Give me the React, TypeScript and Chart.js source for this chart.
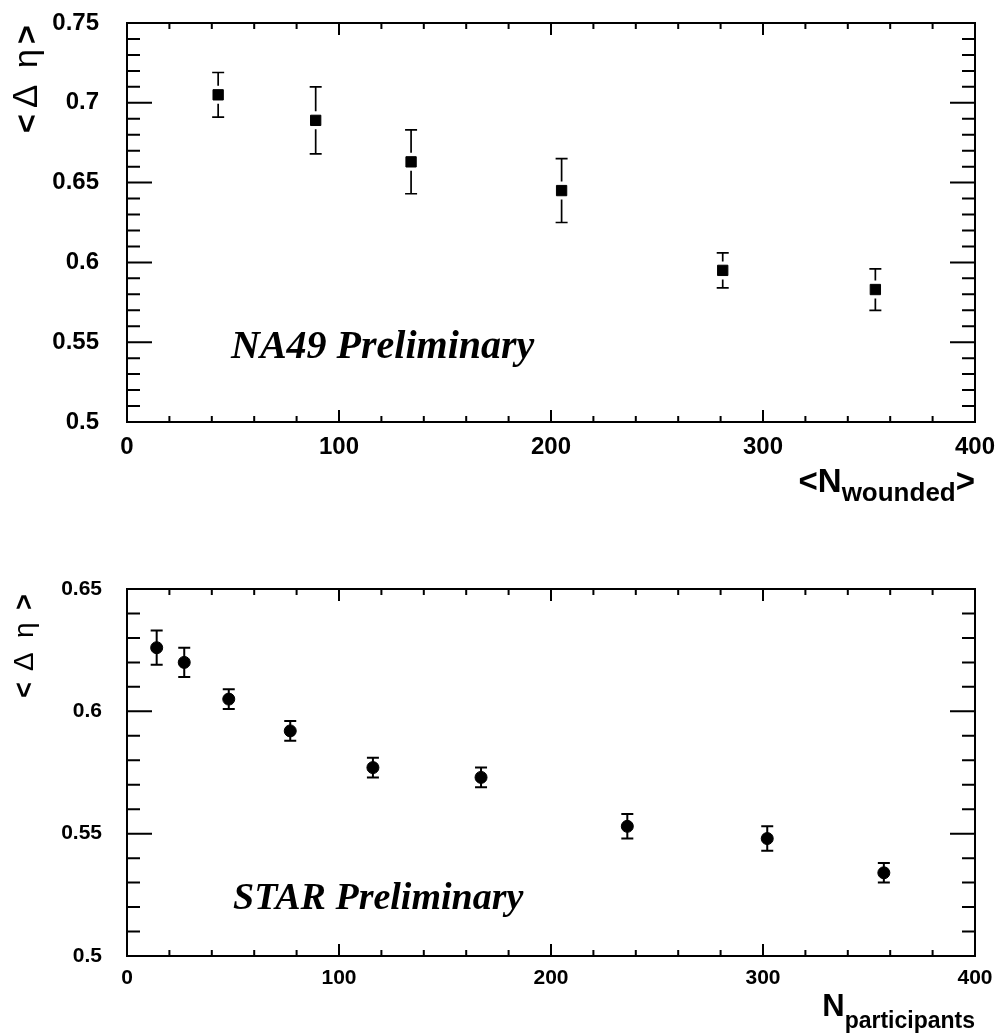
import React, { useEffect, useRef } from "react";
import { Chart, registerables } from "chart.js";
Chart.register(...registerables);

// ---------------- data ----------------
// NA49 (top panel)
const na49X = [43, 89, 134, 205, 281, 353];
const na49Y = [0.705, 0.689, 0.663, 0.645, 0.595, 0.583];
const na49Hi = [0.719, 0.71, 0.683, 0.665, 0.606, 0.596];
const na49Lo = [0.691, 0.668, 0.643, 0.625, 0.584, 0.57];

// STAR (bottom panel)
const starX = [14, 27, 48, 77, 116, 167, 236, 302, 357];
const starY = [0.626, 0.620, 0.605, 0.592, 0.577, 0.573, 0.553, 0.548, 0.534];
const starHi = [0.633, 0.626, 0.609, 0.596, 0.581, 0.577, 0.558, 0.553, 0.538];
const starLo = [0.619, 0.614, 0.601, 0.588, 0.573, 0.569, 0.548, 0.543, 0.53];

// tick labels
const xTickLabels = ["0", "100", "200", "300", "400"];
const na49YTickLabels = ["0.5", "0.55", "0.6", "0.65", "0.7", "0.75"];
const starYTickLabels = ["0.5", "0.55", "0.6", "0.65"];

const SANS = '"Liberation Sans", Arial, sans-serif';
const SERIF = '"Liberation Serif", "Times New Roman", serif';

function labelFor(labels: string[]) {
  return (value: number) => {
    for (const l of labels) {
      if (Math.abs(parseFloat(l) - value) < 1e-6) return l;
    }
    return "";
  };
}

type PanelCfg = {
  id: string;
  top: number;
  height: number;
  padTop: number;
  xAxisHeight: number;
  yMin: number;
  yMax: number;
  xs: number[];
  ys: number[];
  his: number[];
  los: number[];
  yLabels: string[];
  tickFontSize: number;
  xTickPad: number;
  yTickPad: number;
  pointStyle: string;
  pointRadius: number;
  errGap: number;
  errWidth: number;
  yTitle: { x: number; y: number; pieces: { t: string; font: string; off: number }[] };
  xTitle: { pieces: { t: string; font: string; dy: number }[] };
  note: { text: string; x: number; y: number; font: string };
};

function makePlugin(cfg: PanelCfg) {
  return {
    id: "deco" + cfg.id,
    beforeDatasetsDraw(chart: any) {
      const ctx = chart.ctx;
      const xs = chart.scales.x;
      const ys = chart.scales.y;
      ctx.save();
      ctx.strokeStyle = "#000";
      ctx.lineWidth = cfg.errWidth;
      for (let i = 0; i < cfg.xs.length; i++) {
        const px = xs.getPixelForValue(cfg.xs[i]);
        const pc = ys.getPixelForValue(cfg.ys[i]);
        const ph = ys.getPixelForValue(cfg.his[i]);
        const pl = ys.getPixelForValue(cfg.los[i]);
        ctx.beginPath();
        if (pc - cfg.errGap > ph) {
          ctx.moveTo(px, ph);
          ctx.lineTo(px, pc - cfg.errGap);
        }
        if (pc + cfg.errGap < pl) {
          ctx.moveTo(px, pc + cfg.errGap);
          ctx.lineTo(px, pl);
        }
        ctx.moveTo(px - 6, ph);
        ctx.lineTo(px + 6, ph);
        ctx.moveTo(px - 6, pl);
        ctx.lineTo(px + 6, pl);
        ctx.stroke();
      }
      ctx.restore();
    },
    afterDraw(chart: any) {
      const ctx = chart.ctx;
      const a = chart.chartArea;
      const xs = chart.scales.x;
      const ys = chart.scales.y;
      ctx.save();
      ctx.strokeStyle = "#000";
      ctx.lineWidth = 2;
      ctx.strokeRect(a.left, a.top, a.right - a.left, a.bottom - a.top);
      ctx.beginPath();
      const xl = labelFor(xTickLabels);
      for (const t of xs.ticks) {
        const px = xs.getPixelForValue(t.value);
        const len = xl(t.value) ? 12 : 6;
        ctx.moveTo(px, a.bottom);
        ctx.lineTo(px, a.bottom - len);
        ctx.moveTo(px, a.top);
        ctx.lineTo(px, a.top + len);
      }
      const yl = labelFor(cfg.yLabels);
      for (const t of ys.ticks) {
        const py = ys.getPixelForValue(t.value);
        const len = yl(t.value) ? 25 : 13;
        ctx.moveTo(a.left, py);
        ctx.lineTo(a.left + len, py);
        ctx.moveTo(a.right, py);
        ctx.lineTo(a.right - len, py);
      }
      ctx.stroke();

      ctx.fillStyle = "#000";
      ctx.textBaseline = "alphabetic";
      ctx.textAlign = "left";
      // y title (rotated)
      ctx.save();
      ctx.translate(cfg.yTitle.x, cfg.yTitle.y);
      ctx.rotate(-Math.PI / 2);
      for (const p of cfg.yTitle.pieces) {
        ctx.font = p.font;
        ctx.fillText(p.t, p.off, 0);
      }
      ctx.restore();

      // x title (right-anchored)
      let total = 0;
      for (const p of cfg.xTitle.pieces) {
        ctx.font = p.font;
        total += ctx.measureText(p.t).width;
      }
      let cx = a.right - total;
      for (const p of cfg.xTitle.pieces) {
        ctx.font = p.font;
        ctx.fillText(p.t, cx, a.bottom + p.dy);
        cx += ctx.measureText(p.t).width;
      }

      // annotation
      ctx.font = cfg.note.font;
      ctx.fillText(cfg.note.text, cfg.note.x, cfg.note.y);
      ctx.restore();
    },
  };
}

function Panel({ cfg }: { cfg: PanelCfg }) {
  const ref = useRef<HTMLCanvasElement>(null);
  useEffect(() => {
    if (!ref.current) return;
    const tickFont = { family: SANS, size: cfg.tickFontSize, weight: "bold" as const };
    const chart = new Chart(ref.current, {
      type: "scatter",
      data: {
        datasets: [
          {
            data: cfg.xs.map((x, i) => ({ x, y: cfg.ys[i] })),
            pointStyle: cfg.pointStyle as any,
            pointRadius: cfg.pointRadius,
            pointHoverRadius: cfg.pointRadius,
            backgroundColor: "#000",
            borderColor: "#000",
            borderWidth: 1,
            showLine: false,
          },
        ],
      },
      options: {
        responsive: false,
        animation: false,
        devicePixelRatio: 1,
        events: [],
        layout: { padding: { top: cfg.padTop, right: 22, left: 0, bottom: 0 } },
        plugins: { legend: { display: false }, tooltip: { enabled: false } },
        scales: {
          x: {
            type: "linear",
            position: "bottom",
            min: 0,
            max: 400,
            afterFit: (s: any) => {
              s.height = cfg.xAxisHeight;
              s.paddingLeft = 0;
              s.paddingRight = 0;
            },
            grid: { display: false, drawTicks: false, tickLength: 0 },
            border: { display: false },
            ticks: {
              stepSize: 20,
              autoSkip: false,
              maxTicksLimit: 1000,
              maxRotation: 0,
              minRotation: 0,
              padding: cfg.xTickPad,
              color: "#000",
              font: tickFont,
              callback: (v: any) => labelFor(xTickLabels)(Number(v)),
            },
          },
          y: {
            type: "linear",
            min: cfg.yMin,
            max: cfg.yMax,
            afterFit: (s: any) => {
              s.width = 127;
              s.paddingTop = 0;
              s.paddingBottom = 0;
            },
            grid: { display: false, drawTicks: false, tickLength: 0 },
            border: { display: false },
            ticks: {
              stepSize: 0.01,
              autoSkip: false,
              maxTicksLimit: 1000,
              padding: cfg.yTickPad,
              color: "#000",
              font: tickFont,
              callback: (v: any) => labelFor(cfg.yLabels)(Number(v)),
            },
          },
        },
      },
      plugins: [makePlugin(cfg)],
    });
    return () => chart.destroy();
  }, [cfg]);
  return (
    <canvas
      ref={ref}
      width={997}
      height={cfg.height}
      style={{ position: "absolute", left: 0, top: cfg.top, width: 997, height: cfg.height, display: "block" }}
    />
  );
}

const topCfg: PanelCfg = {
  id: "na49",
  top: 0,
  height: 560,
  padTop: 23,
  xAxisHeight: 560 - 422,
  yMin: 0.5,
  yMax: 0.75,
  xs: na49X,
  ys: na49Y,
  his: na49Hi,
  los: na49Lo,
  yLabels: na49YTickLabels,
  tickFontSize: 24,
  xTickPad: 11,
  yTickPad: 28,
  pointStyle: "rect",
  pointRadius: 7.3,
  errGap: 9,
  errWidth: 1.7,
  yTitle: {
    x: 37,
    y: 133,
    pieces: [
      { t: "<", font: `bold 32px ${SANS}`, off: 0 },
      { t: "Δ", font: `35px ${SANS}`, off: 25 },
      { t: "η", font: `34px ${SANS}`, off: 65 },
      { t: ">", font: `bold 32px ${SANS}`, off: 89 },
    ],
  },
  xTitle: {
    pieces: [
      { t: "<N", font: `bold 33px ${SANS}`, dy: 70 },
      { t: "wounded", font: `bold 26px ${SANS}`, dy: 79 },
      { t: ">", font: `bold 33px ${SANS}`, dy: 70 },
    ],
  },
  note: { text: "NA49 Preliminary", x: 231, y: 358, font: `italic bold 40px ${SERIF}` },
};

const bottomCfg: PanelCfg = {
  id: "star",
  top: 560,
  height: 474,
  padTop: 29,
  xAxisHeight: 474 - 396,
  yMin: 0.5,
  yMax: 0.65,
  xs: starX,
  ys: starY,
  his: starHi,
  los: starLo,
  yLabels: starYTickLabels,
  tickFontSize: 21,
  xTickPad: 10,
  yTickPad: 25,
  pointStyle: "circle",
  pointRadius: 6,
  errGap: 0,
  errWidth: 2,
  yTitle: {
    x: 33,
    y: 138,
    pieces: [
      { t: "<", font: `bold 27px ${SANS}`, off: 0 },
      { t: "Δ", font: `28px ${SANS}`, off: 27 },
      { t: "η", font: `28px ${SANS}`, off: 60 },
      { t: ">", font: `bold 27px ${SANS}`, off: 88 },
    ],
  },
  xTitle: {
    pieces: [
      { t: "N", font: `bold 31px ${SANS}`, dy: 60 },
      { t: "participants", font: `bold 23px ${SANS}`, dy: 72 },
    ],
  },
  note: { text: "STAR Preliminary", x: 233, y: 349, font: `italic bold 38px ${SERIF}` },
};

export default function App() {
  return (
    <div style={{ position: "absolute", left: 0, top: 0, width: 997, height: 1034, background: "#fff" }}>
      <Panel cfg={topCfg} />
      <Panel cfg={bottomCfg} />
    </div>
  );
}
